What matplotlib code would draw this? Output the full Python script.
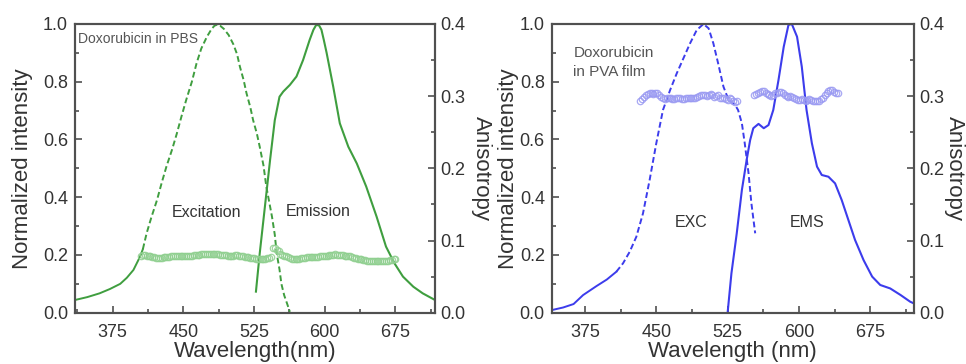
import numpy as np
import matplotlib
matplotlib.use("Agg")
import matplotlib.pyplot as plt
from matplotlib.ticker import MultipleLocator, FormatStrFormatter

plt.rcParams['font.family'] = ['Liberation Sans', 'DejaVu Sans']

# ---------------- Data: Doxorubicin in PBS (left) ----------------
pbs_exc_wl = [335, 348, 361, 372, 383, 390, 397, 404, 407, 411, 416, 422, 427, 432, 438, 443, 448, 453,
              459, 464, 469, 475, 480, 483, 486, 489, 493, 498, 503, 507, 510, 514, 517, 521, 524, 528, 531,
              535, 538, 541, 544, 547, 549, 552, 554, 557, 560, 563]
pbs_exc = [0.044, 0.054, 0.067, 0.082, 0.100, 0.121, 0.148, 0.194, 0.220, 0.275, 0.330, 0.390, 0.450,
           0.506, 0.565, 0.620, 0.680, 0.737, 0.800, 0.864, 0.915, 0.956, 0.983, 0.994, 0.998, 0.994,
           0.983, 0.962, 0.930, 0.895, 0.852, 0.805, 0.760, 0.712, 0.667, 0.620, 0.575, 0.510, 0.437,
           0.385, 0.333, 0.270, 0.206, 0.150, 0.100, 0.060, 0.032, 0.003]
pbs_em_wl = [527, 531, 536.5, 542, 547, 552, 556, 563, 570, 577, 584, 588, 591, 594, 596.5, 599, 602,
             609, 616, 625, 634, 644, 655, 665, 674, 683, 694, 704, 717]
pbs_em = [0.073, 0.205, 0.367, 0.529, 0.667, 0.748, 0.766, 0.789, 0.818, 0.875, 0.945, 0.980, 0.997,
          0.995, 0.980, 0.945, 0.900, 0.783, 0.656, 0.575, 0.517, 0.437, 0.333, 0.229, 0.171, 0.125,
          0.090, 0.067, 0.044]
pbs_aniso_exc_wl = list(range(405, 544, 2))
pbs_aniso_exc = [0.079, 0.080, 0.080, 0.079, 0.078, 0.078, 0.077, 0.077, 0.076, 0.076,
                 0.076, 0.076, 0.077, 0.077, 0.077, 0.077, 0.078, 0.078, 0.078, 0.079,
                 0.079, 0.079, 0.078, 0.078, 0.078, 0.079, 0.079, 0.079, 0.080, 0.080,
                 0.080, 0.080, 0.081, 0.081, 0.081, 0.081, 0.081, 0.082, 0.082, 0.081,
                 0.081, 0.081, 0.080, 0.080, 0.080, 0.080, 0.079, 0.079, 0.079, 0.079,
                 0.080, 0.080, 0.079, 0.079, 0.078, 0.077, 0.077, 0.077, 0.076, 0.076,
                 0.076, 0.075, 0.075, 0.075, 0.075, 0.075, 0.075, 0.076, 0.076, 0.077]
pbs_aniso_em_wl = list(range(545, 676, 2))
pbs_aniso_em = [0.090, 0.089, 0.087, 0.085, 0.082, 0.080, 0.079, 0.078, 0.077, 0.076,
                0.075, 0.075, 0.075, 0.075, 0.075, 0.076, 0.076, 0.076, 0.077, 0.077,
                0.077, 0.077, 0.077, 0.077, 0.077, 0.078, 0.078, 0.078, 0.079, 0.079,
                0.080, 0.080, 0.080, 0.081, 0.080, 0.080, 0.080, 0.080, 0.079, 0.079,
                0.078, 0.078, 0.077, 0.076, 0.076, 0.075, 0.074, 0.074, 0.073, 0.073,
                0.072, 0.072, 0.072, 0.072, 0.071, 0.072, 0.072, 0.072, 0.072, 0.072,
                0.072, 0.072, 0.073, 0.073, 0.074, 0.075]

# ---------------- Data: Doxorubicin in PVA film (right) ----------------
pva_exc_wl = [340, 352, 363, 373, 387, 398, 408, 415, 422, 429, 436, 443, 450, 457, 464.5, 471.5, 478.5,
              485.5, 492.5, 499.6, 505, 510, 515, 520.6, 526, 533, 536, 540, 543, 547, 550, 554]
pva_exc = [0.009, 0.018, 0.030, 0.061, 0.092, 0.115, 0.142, 0.171, 0.211, 0.263, 0.344, 0.460, 0.587,
           0.702, 0.771, 0.829, 0.881, 0.933, 0.979, 1.000, 0.985, 0.933, 0.864, 0.783, 0.737, 0.719,
           0.702, 0.656, 0.587, 0.483, 0.379, 0.275]
pva_em_wl = [525, 529, 534.6, 540, 545, 548.7, 552, 557.5, 563, 568, 573, 578.5, 584, 589, 592.5, 598,
             603, 608, 613.6, 619, 624, 631, 638, 645, 652, 659, 668, 677, 685.5, 696, 707, 717, 721]
pva_em = [0.000, 0.136, 0.275, 0.425, 0.529, 0.598, 0.639, 0.654, 0.639, 0.650, 0.702, 0.806, 0.921,
          0.997, 1.000, 0.956, 0.852, 0.702, 0.587, 0.506, 0.477, 0.471, 0.448, 0.390, 0.321, 0.252,
          0.182, 0.125, 0.096, 0.084, 0.061, 0.038, 0.032]
pva_aniso_exc_wl = list(range(433, 536, 2))
pva_aniso_exc = [0.294, 0.296, 0.299, 0.301, 0.303, 0.305, 0.304, 0.303, 0.305, 0.304,
                 0.302, 0.299, 0.297, 0.296, 0.297, 0.298, 0.297, 0.296, 0.296, 0.297,
                 0.297, 0.297, 0.296, 0.296, 0.297, 0.298, 0.298, 0.297, 0.297, 0.298,
                 0.299, 0.300, 0.301, 0.302, 0.301, 0.300, 0.302, 0.303, 0.302, 0.299,
                 0.300, 0.301, 0.298, 0.297, 0.298, 0.296, 0.295, 0.297, 0.296, 0.294,
                 0.292, 0.293]
pva_aniso_em_wl = list(range(553, 642, 2))
pva_aniso_em = [0.302, 0.303, 0.304, 0.306, 0.307, 0.307, 0.305, 0.303, 0.301, 0.300,
                0.302, 0.304, 0.305, 0.306, 0.306, 0.304, 0.302, 0.300, 0.299, 0.300,
                0.299, 0.298, 0.296, 0.295, 0.295, 0.296, 0.295, 0.294, 0.295, 0.296,
                0.295, 0.294, 0.293, 0.293, 0.294, 0.296, 0.298, 0.301, 0.304, 0.307,
                0.308, 0.308, 0.306, 0.305, 0.304]

xticks = [375, 450, 525, 600, 675]

GREEN = '#3f9e3f'
GREEN_M = '#8fcf8f'
BLUE = '#3c3cec'
BLUE_M = '#9a9af2'
SPINE = '#505050'
TXT = '#333333'

fig = plt.figure(figsize=(9.66, 3.64), dpi=100)


def style_axes(ax, ax2, xlim):
    ax.set_xlim(*xlim)
    ax.set_ylim(0, 1.0)
    ax2.set_ylim(0, 0.4)
    ax.set_xticks(xticks)
    ax.xaxis.set_minor_locator(MultipleLocator(37.5))
    ax.yaxis.set_major_locator(MultipleLocator(0.2))
    ax.yaxis.set_minor_locator(MultipleLocator(0.1))
    ax2.yaxis.set_major_locator(MultipleLocator(0.1))
    ax2.yaxis.set_minor_locator(MultipleLocator(0.05))
    for a in (ax, ax2):
        for s in a.spines.values():
            s.set_color(SPINE)
            s.set_linewidth(1.5)
        a.tick_params(which='both', direction='in', colors=SPINE, labelcolor=TXT, labelsize=13,
                      width=1.2)
        a.tick_params(which='major', length=5)
        a.tick_params(which='minor', length=3)
    ax.tick_params(axis='x', pad=8)
    ax.tick_params(axis='y', pad=5)
    ax2.tick_params(axis='y', pad=4)
    ax.yaxis.set_major_formatter(FormatStrFormatter('%.1f'))
    ax2.yaxis.set_major_formatter(FormatStrFormatter('%.1f'))


def aniso(ax2, wl, val, col):
    ax2.plot(wl, val, ls='none', marker='o', ms=4.6, mfc='none', mec=col, mew=0.9, alpha=0.85)


# ---------------- Left panel ----------------
axL = fig.add_axes([75 / 966, 51.3 / 364, 360 / 966, 288.7 / 364])
axL2 = axL.twinx()
style_axes(axL, axL2, (335, 717))
wl = np.array(pbs_exc_wl); v = np.array(pbs_exc)
axL.plot(wl[wl <= 407], v[wl <= 407], color=GREEN, lw=1.4)
axL.plot(wl[wl >= 407], v[wl >= 407], color=GREEN, lw=1.4, ls=(0, (3, 1.6)))
axL.plot(pbs_em_wl, pbs_em, color=GREEN, lw=1.5)
aniso(axL2, pbs_aniso_exc_wl, pbs_aniso_exc, GREEN_M)
aniso(axL2, pbs_aniso_em_wl, pbs_aniso_em, GREEN_M)
axL.set_xlabel('Wavelength(nm)', fontsize=16, color=TXT, labelpad=0)
axL.set_ylabel('Normalized intensity', fontsize=16, color=TXT, va='center', ha='center')
axL.yaxis.set_label_coords(-0.145, 0.5)
axL2.set_ylabel('Anisotropy', fontsize=16, color=TXT, rotation=270, va='center', ha='center')
axL2.yaxis.set_label_coords(1.130, 0.5)
axL.text(338, 0.948, 'Doxorubicin in PBS', fontsize=10, color='#555555', va='center', ha='left')
axL.text(475, 0.348, 'Excitation', fontsize=11.5, color=TXT, ha='center', va='center')
axL.text(593, 0.350, 'Emission', fontsize=11.5, color=TXT, ha='center', va='center')

# ---------------- Right panel ----------------
axR = fig.add_axes([551.7 / 966, 51.3 / 364, 362.3 / 966, 288.7 / 364])
axR2 = axR.twinx()
style_axes(axR, axR2, (340, 721))
wl = np.array(pva_exc_wl); v = np.array(pva_exc)
axR.plot(wl[wl <= 411], v[wl <= 411], color=BLUE, lw=1.4)
axR.plot(wl[wl >= 408], v[wl >= 408], color=BLUE, lw=1.4, ls=(0, (3, 1.6)))
axR.plot(pva_em_wl, pva_em, color=BLUE, lw=1.5)
aniso(axR2, pva_aniso_exc_wl, pva_aniso_exc, BLUE_M)
aniso(axR2, pva_aniso_em_wl, pva_aniso_em, BLUE_M)
axR.set_xlabel('Wavelength (nm)', fontsize=16, color=TXT, labelpad=0)
axR.set_ylabel('Normalized intensity', fontsize=16, color=TXT, va='center', ha='center')
axR.yaxis.set_label_coords(-0.119, 0.5)
axR2.set_ylabel('Anisotropy', fontsize=16, color=TXT, rotation=270, va='center', ha='center')
axR2.yaxis.set_label_coords(1.113, 0.5)
axR.text(362.7, 0.90, 'Doxorubicin', fontsize=11, color='#555555', va='center', ha='left')
axR.text(362.7, 0.834, 'in PVA film', fontsize=11, color='#555555', va='center', ha='left')
axR.text(487, 0.311, 'EXC', fontsize=11.5, color=TXT, ha='center', va='center')
axR.text(609, 0.311, 'EMS', fontsize=11.5, color=TXT, ha='center', va='center')

fig.savefig('out.png', dpi=100)
